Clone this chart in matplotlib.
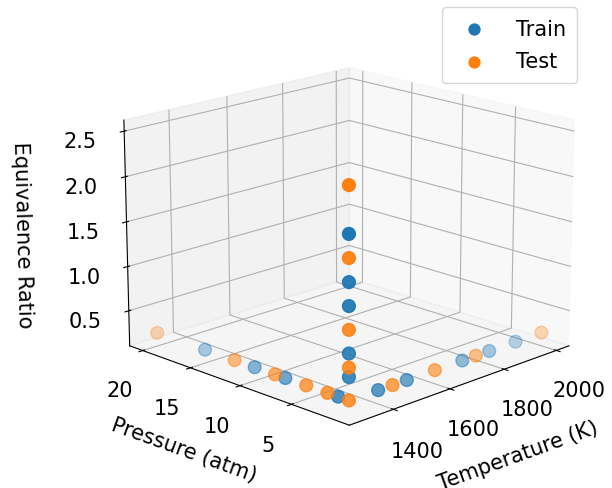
import numpy as np
import matplotlib
matplotlib.use("Agg")
import matplotlib.pyplot as plt

# sweep along each axis from the base condition (1300 K, 1 atm, phi 0.25)
temp_T = [1300, 1400, 1450, 1500, 1600, 1700, 1750, 1800, 1900, 2000]
temp_set = ['Test', 'Train', 'Test', 'Train', 'Test', 'Train', 'Test', 'Train', 'Train', 'Test']

pres_P = [1, 2, 3, 5, 7, 8, 10, 12, 15, 20]
pres_set = ['Test', 'Train', 'Test', 'Test', 'Train', 'Test', 'Train', 'Test', 'Train', 'Test']

phi_vals = [0.25, 0.5, 0.6, 0.75, 1.0, 1.25, 1.5, 1.75, 2.0, 2.5]
phi_set = ['Test', 'Train', 'Test', 'Train', 'Test', 'Train', 'Train', 'Test', 'Train', 'Test']

T0, P0, phi0 = 1300, 1, 0.25

T, P, PHI, S = [], [], [], []
for t, s in zip(temp_T, temp_set):
    T.append(t); P.append(P0); PHI.append(phi0); S.append(s)
for p, s in zip(pres_P[1:], pres_set[1:]):
    T.append(T0); P.append(p); PHI.append(phi0); S.append(s)
for f, s in zip(phi_vals[1:], phi_set[1:]):
    T.append(T0); P.append(P0); PHI.append(f); S.append(s)
T, P, PHI, S = map(np.array, (T, P, PHI, S))

plt.rcParams['font.size'] = 15

fig = plt.figure(figsize=(6.12, 4.89), dpi=100)
ax = fig.add_subplot(projection='3d')
ax.set_position([0.11, 0.005, 0.9, 1.0])

for name in ['Train', 'Test']:
    m = S == name
    ax.scatter(T[m], P[m], PHI[m], s=85, label=name)

ax.set_xlim(1250, 2050)
ax.set_ylim(-0.4, 21.4)
ax.set_zlim(0.1, 2.62)
ax.set_xticks([1400, 1600, 1800, 2000])
ax.set_yticks([5, 10, 15, 20])
ax.set_zticks([0.5, 1.0, 1.5, 2.0, 2.5])
for a in (ax.xaxis, ax.yaxis, ax.zaxis):
    a.set_tick_params(pad=10)

ax.set_xlabel('Temperature (K)', labelpad=21)
ax.set_ylabel('Pressure (atm)', labelpad=18)
ax.set_zlabel('Equivalence Ratio', labelpad=22)
ax.view_init(elev=17, azim=-135)

fig.legend(loc='upper right', bbox_to_anchor=(0.96, 1.004),
           borderpad=0.55, labelspacing=0.6, handletextpad=1.0,
           handlelength=2.0, markerscale=0.85)

fig.savefig('out.png', dpi=100)
